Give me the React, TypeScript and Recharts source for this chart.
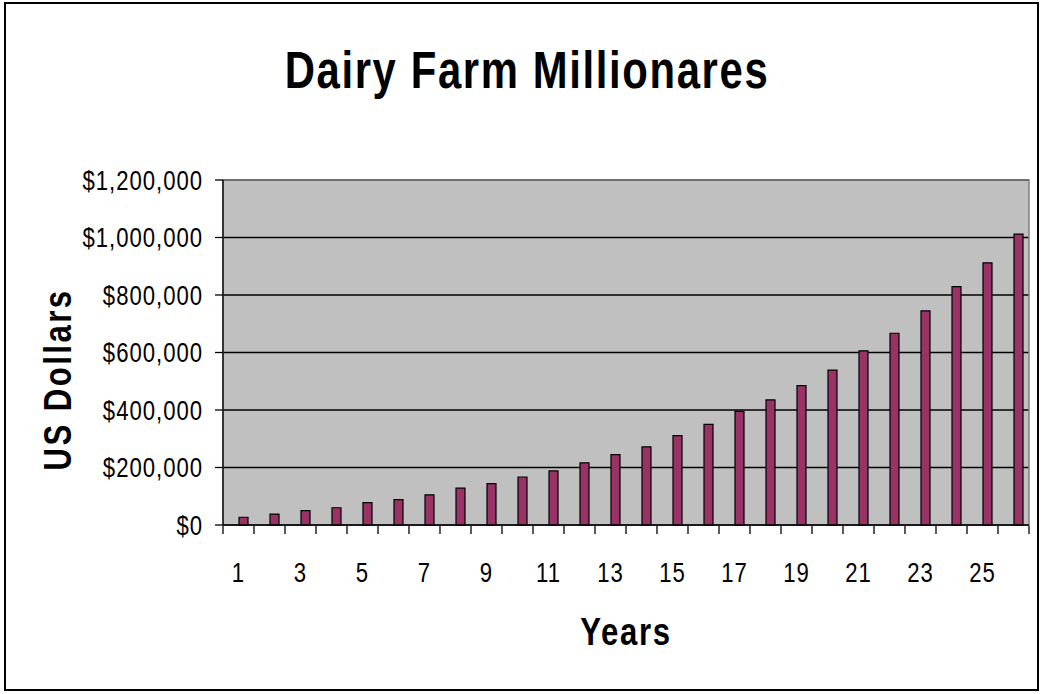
import React from 'react';
import { BarChart, Bar, XAxis, YAxis, CartesianGrid, ReferenceArea, Label } from 'recharts';

const years = ['1','2','3','4','5','6','7','8','9','10','11','12','13','14','15','16','17','18','19','20','21','22','23','24','25','26'];
const values = [27000, 38000, 50000, 60000, 78000, 88000, 105000, 128000, 144000, 167000, 188000, 216000, 245000, 272000, 311000, 350000, 395000, 435000, 485000, 539000, 606000, 667000, 745000, 829000, 912000, 1012000];
const yTicks = [0, 200000, 400000, 600000, 800000, 1000000, 1200000];
const boundaryTicks = [0,1,2,3,4,5,6,7,8,9,10,11,12,13,14,15,16,17,18,19,20,21,22,23,24,25,26];

const data = years.map((y, i) => ({ year: y, value: values[i], pos: i + 0.5 }));

const FONT = '"Liberation Sans", Arial, Helvetica, sans-serif';
const SX = 0.82;

const fmt = (v: number) => '$' + v.toLocaleString('en-US');

const YTick = (props: any) => {
  const { x, y, payload } = props;
  return (
    <g transform={`translate(${x},${y})`}>
      <text transform={`scale(${SX},1)`} textAnchor="end" dy="0.355em" fontSize={27} fontFamily={FONT} fill="#000" letterSpacing={1.2}>
        {fmt(payload.value)}
      </text>
    </g>
  );
};

const XTick = (props: any) => {
  const { x, y, payload } = props;
  return (
    <g transform={`translate(${x},${y})`}>
      <text transform={`scale(${SX},1)`} textAnchor="middle" dy="0.71em" fontSize={27} fontFamily={FONT} fill="#000" letterSpacing={1.2}>
        {payload.value}
      </text>
    </g>
  );
};

const YLabel = (props: any) => {
  const vb = props.viewBox || {};
  const cx = vb.x + vb.width / 2 - 54;
  const cy = vb.y + vb.height / 2 + 27;
  return (
    <g transform={`translate(${cx},${cy}) rotate(-90) scale(0.82,1)`}>
      <text textAnchor="middle" dy="0.355em" fontSize={38} fontWeight="bold" fontFamily={FONT} fill="#000" letterSpacing={3}>
        US Dollars
      </text>
    </g>
  );
};

const XLabel = (props: any) => {
  const vb = props.viewBox || {};
  const cx = vb.x + vb.width / 2;
  const cy = vb.y + 107;
  return (
    <g transform={`translate(${cx},${cy}) scale(0.82,1)`}>
      <text textAnchor="middle" dy="0.355em" fontSize={38} fontWeight="bold" fontFamily={FONT} fill="#000" letterSpacing={2}>
        Years
      </text>
    </g>
  );
};

export default function App() {
  return (
    <div style={{ position: 'absolute', left: 0, top: 0, width: 1044, height: 694, background: '#fff', fontFamily: FONT }}>
      <div style={{ position: 'absolute', left: 4, top: 2, width: 1035, height: 689, border: '2px solid #000', boxSizing: 'border-box' }} />
      <div style={{ position: 'absolute', left: 0, top: 45, width: 1054, textAlign: 'center', fontSize: 51, lineHeight: '51px', fontWeight: 'bold', letterSpacing: 2, color: '#000', whiteSpace: 'nowrap', transform: 'scaleX(0.82)', transformOrigin: '527px 0' }}>
        Dairy Farm Millionares
      </div>
      <div style={{ position: 'absolute', left: 0, top: 0 }}>
        <BarChart width={1044} height={694} data={data} margin={{ top: 180, right: 15, bottom: 0, left: 0 }} barGap={0} barSize={9}>
          <CartesianGrid vertical={false} fill="#C0C0C0" stroke="#000" strokeWidth={1.3} fillOpacity={1} />
          <XAxis dataKey="year" height={1} interval={1} tickLine={false} tickSize={8} tickMargin={30}
            axisLine={{ stroke: '#000', strokeWidth: 1.3 }} tick={<XTick />}>
            <Label content={<XLabel />} />
          </XAxis>
          <XAxis xAxisId="num" dataKey="pos" type="number" domain={[0, 26]} ticks={boundaryTicks} allowDataOverflow height={168}
            interval={0} tickFormatter={() => ''} tickSize={8} tickLine={{ stroke: '#000', strokeWidth: 1.3 }}
            axisLine={false} />
          <YAxis width={223} domain={[0, 1200000]} ticks={yTicks} tickFormatter={fmt} tickSize={8} tickMargin={12}
            axisLine={{ stroke: '#000', strokeWidth: 1.3 }} tickLine={{ stroke: '#000', strokeWidth: 1.3 }} tick={<YTick />}>
            <Label content={<YLabel />} />
          </YAxis>
          <ReferenceArea xAxisId="num" x1={0} x2={26} y1={0} y2={1200000} fill="none" stroke="#808080" strokeWidth={1.5} ifOverflow="visible" />
          <Bar dataKey="empty" fill="#993366" isAnimationActive={false} />
          <Bar dataKey="value" fill="#993366" stroke="#000" strokeWidth={1.2} isAnimationActive={false} />
        </BarChart>
      </div>
    </div>
  );
}
